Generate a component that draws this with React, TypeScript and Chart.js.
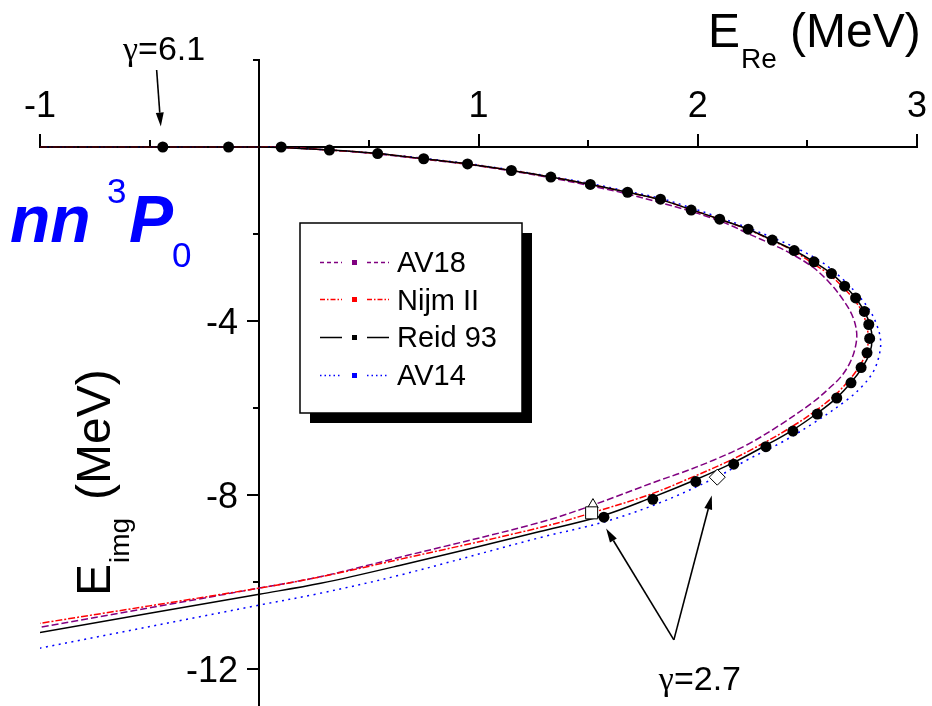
import React, { useEffect, useRef } from "react";
import { Chart, registerables } from "chart.js";

Chart.register(...registerables);

// ---------- axes ----------
const X_RANGE = [-1, 3];
const Y_RANGE = [-12.85, 2];
const X_MAJOR_TICKS = [-1, 0, 1, 2, 3];
const X_TICK_LABELS = ["-1", "", "1", "2", "3"];
const X_MINOR_TICKS = [-0.5, 0.5, 1.5, 2.5];
const Y_MAJOR_TICKS = [0, -4, -8, -12];
const Y_TICK_LABELS = ["", "-4", "-8", "-12"];
const Y_MINOR_TICKS = [2, -2, -6, -10];

// ---------- series (E_Re, E_img) ----------
const av18: number[][] = [
  [-1, 0], [0, 0], [0.1, -0.01], [0.32, -0.07], [0.54, -0.16], [0.75, -0.28], [0.95, -0.4],
  [1.15, -0.55], [1.33, -0.71], [1.51, -0.89], [1.68, -1.08], [1.83, -1.28], [1.95, -1.45],
  [2.056, -1.62], [2.15, -1.8], [2.225, -1.98], [2.345, -2.25], [2.436, -2.48], [2.527, -2.77],
  [2.603, -3.13], [2.664, -3.52], [2.707, -3.9], [2.725, -4.28], [2.718, -4.62], [2.695, -4.95],
  [2.655, -5.27], [2.603, -5.53], [2.527, -5.86], [2.375, -6.39], [2.223, -6.85], [2.071, -7.2],
  [1.919, -7.5], [1.826, -7.66], [1.522, -8.23], [1.28, -8.63], [0.642, -9.43], [0.277, -9.88],
  [0, -10.14], [-1, -11.04],
];
const nijm2: number[][] = [
  [-1, 0], [0, 0], [0.1, -0.01], [0.32, -0.07], [0.54, -0.15], [0.75, -0.27], [0.95, -0.39],
  [1.15, -0.54], [1.33, -0.69], [1.51, -0.86], [1.68, -1.04], [1.83, -1.21], [1.97, -1.44],
  [2.1, -1.66], [2.23, -1.9], [2.34, -2.15], [2.44, -2.4], [2.52, -2.66], [2.6, -2.93],
  [2.66, -3.21], [2.71, -3.49], [2.75, -3.79], [2.77, -4.1], [2.778, -4.41], [2.768, -4.73],
  [2.735, -5.06], [2.685, -5.39], [2.62, -5.73], [2.53, -6.09], [2.42, -6.46], [2.295, -6.82],
  [2.15, -7.2], [1.975, -7.59], [1.78, -7.99], [1.516, -8.41], [1.28, -8.75], [0.64, -9.48],
  [0.28, -9.88], [0, -10.14], [-1, -10.95],
];
const reid93: number[][] = [
  [-1, 0], [0, 0], [0.1, -0.01], [0.32, -0.07], [0.54, -0.15], [0.75, -0.27], [0.95, -0.39],
  [1.15, -0.54], [1.33, -0.69], [1.51, -0.86], [1.68, -1.04], [1.83, -1.21], [1.97, -1.44],
  [2.1, -1.66], [2.23, -1.89], [2.34, -2.14], [2.44, -2.38], [2.53, -2.64], [2.61, -2.91],
  [2.67, -3.19], [2.72, -3.47], [2.76, -3.78], [2.785, -4.08], [2.795, -4.4], [2.785, -4.73],
  [2.75, -5.07], [2.7, -5.41], [2.635, -5.76], [2.545, -6.12], [2.435, -6.5], [2.31, -6.86],
  [2.165, -7.25], [1.99, -7.65], [1.79, -8.06], [1.57, -8.47], [1.28, -8.84], [0.64, -9.62],
  [0.28, -10.03], [0, -10.28], [-1, -11.16],
];
const av14: number[][] = [
  [-1, 0], [0, 0], [0.1, -0.01], [0.32, -0.07], [0.54, -0.15], [0.75, -0.26], [0.95, -0.38],
  [1.15, -0.53], [1.33, -0.68], [1.51, -0.84], [1.68, -1.02], [1.83, -1.18], [1.97, -1.4],
  [2.1, -1.62], [2.225, -1.85], [2.339, -2.08], [2.448, -2.32], [2.558, -2.62], [2.649, -2.98],
  [2.725, -3.37], [2.78, -3.72], [2.815, -4.07], [2.834, -4.44], [2.827, -4.8], [2.8, -5.17],
  [2.75, -5.5], [2.679, -5.82], [2.527, -6.35], [2.375, -6.81], [2.223, -7.2], [2.09, -7.58],
  [1.826, -8.18], [1.572, -8.62], [1.28, -8.98], [0.642, -9.84], [0.277, -10.26], [0, -10.53],
  [-1, -11.52],
];
// Reid 93 trajectory points (filled circles)
const reid93Points: number[][] = [
  [-0.44, 0], [-0.14, 0], [0.1, 0], [0.32, -0.07], [0.54, -0.15], [0.75, -0.27], [0.95, -0.39],
  [1.15, -0.54], [1.33, -0.69], [1.51, -0.86], [1.68, -1.04], [1.83, -1.2], [1.97, -1.45],
  [2.1, -1.66], [2.23, -1.89], [2.34, -2.14], [2.44, -2.38], [2.53, -2.64], [2.61, -2.91],
  [2.67, -3.2], [2.72, -3.47], [2.76, -3.78], [2.78, -4.08], [2.784, -4.4], [2.772, -4.73],
  [2.745, -5.07], [2.699, -5.42], [2.634, -5.77], [2.545, -6.14], [2.434, -6.53], [2.311, -6.89],
  [2.164, -7.29], [1.991, -7.69], [1.795, -8.1], [1.572, -8.51],
];
// gamma = 2.7 open markers
const av18Gamma: number[][] = [[1.522, -8.22]];
const nijm2Gamma: number[][] = [[1.516, -8.41]];
const av14Gamma: number[][] = [[2.089, -7.59]];

// annotations (data coordinates)
const GAMMA61_LABEL = { x: -0.434, y: 2.0, text: "=6.1" };
const GAMMA61_ARROW = [[-0.468, 1.77], [-0.449, 0.47]];
const GAMMA27_LABEL = { x: 2.01, y: -12.48, text: "=2.7" };
const GAMMA27_ARROWS = [
  [[1.891, -11.33], [1.582, -8.77]],
  [[1.891, -11.33], [2.064, -8.01]],
];

const SANS = '"Liberation Sans", Arial, sans-serif';
const SERIF = '"Liberation Serif", "Times New Roman", serif';

const toXY = (arr: number[][]) => arr.map(([x, y]) => ({ x, y }));

const LEGEND_DASH: Record<string, number[]> = {
  AV18: [4, 3],
  "Nijm II": [5, 2, 1.5, 2],
  "Reid 93": [],
  AV14: [1.5, 3],
};

function drawArrow(ctx: CanvasRenderingContext2D, x1: number, y1: number, x2: number, y2: number) {
  const ang = Math.atan2(y2 - y1, x2 - x1);
  const hl = 14;
  const hw = 4;
  const bx = x2 - Math.cos(ang) * hl;
  const by = y2 - Math.sin(ang) * hl;
  ctx.beginPath();
  ctx.moveTo(x1, y1);
  ctx.lineTo(bx, by);
  ctx.lineWidth = 1.6;
  ctx.strokeStyle = "#000";
  ctx.stroke();
  ctx.beginPath();
  ctx.moveTo(x2, y2);
  ctx.lineTo(bx + Math.sin(ang) * hw, by - Math.cos(ang) * hw);
  ctx.lineTo(bx - Math.sin(ang) * hw, by + Math.cos(ang) * hw);
  ctx.closePath();
  ctx.fillStyle = "#000";
  ctx.fill();
}

function drawGammaLabel(ctx: CanvasRenderingContext2D, cx: number, baseline: number, text: string) {
  ctx.textBaseline = "alphabetic";
  ctx.textAlign = "left";
  ctx.font = `34px ${SERIF}`;
  const gw = ctx.measureText("\u03B3").width;
  ctx.font = `34px ${SANS}`;
  const tw = ctx.measureText(text).width;
  const start = cx - (gw + tw) / 2;
  ctx.fillStyle = "#000";
  ctx.font = `34px ${SERIF}`;
  ctx.fillText("\u03B3", start, baseline);
  ctx.font = `34px ${SANS}`;
  ctx.fillText(text, start + gw, baseline);
}

const axesPlugin = {
  id: "customAxes",
  beforeDatasetsDraw(chart: any) {
    const { ctx, chartArea } = chart;
    const xs = chart.scales.x;
    const ys = chart.scales.y;
    const x0 = Math.round(xs.getPixelForValue(0));
    const y0 = Math.round(ys.getPixelForValue(0));
    ctx.save();
    ctx.strokeStyle = "#000";
    ctx.lineWidth = 2;
    ctx.beginPath();
    ctx.moveTo(xs.getPixelForValue(X_RANGE[0]) - 1, y0);
    ctx.lineTo(xs.getPixelForValue(X_RANGE[1]) + 1, y0);
    ctx.moveTo(x0, ys.getPixelForValue(Y_RANGE[1]) - 1);
    ctx.lineTo(x0, chartArea.bottom);
    X_MAJOR_TICKS.forEach((v) => {
      const p = Math.round(xs.getPixelForValue(v));
      ctx.moveTo(p, y0);
      ctx.lineTo(p, y0 - 13);
    });
    X_MINOR_TICKS.forEach((v) => {
      const p = Math.round(xs.getPixelForValue(v));
      ctx.moveTo(p, y0);
      ctx.lineTo(p, y0 - 7);
    });
    Y_MAJOR_TICKS.forEach((v) => {
      const p = Math.round(ys.getPixelForValue(v));
      ctx.moveTo(x0, p);
      ctx.lineTo(x0 - 12, p);
    });
    Y_MINOR_TICKS.forEach((v) => {
      const p = Math.round(ys.getPixelForValue(v));
      ctx.moveTo(x0, p);
      ctx.lineTo(x0 - 6, p);
    });
    ctx.stroke();

    ctx.fillStyle = "#000";
    ctx.font = `36px ${SANS}`;
    ctx.textBaseline = "alphabetic";
    ctx.textAlign = "center";
    X_MAJOR_TICKS.forEach((v, i) => {
      if (X_TICK_LABELS[i]) ctx.fillText(X_TICK_LABELS[i], xs.getPixelForValue(v), y0 - 30);
    });
    ctx.textAlign = "right";
    Y_MAJOR_TICKS.forEach((v, i) => {
      if (Y_TICK_LABELS[i]) ctx.fillText(Y_TICK_LABELS[i], x0 - 21, ys.getPixelForValue(v) + 13);
    });

    // x title: E_Re (MeV)
    ctx.textAlign = "left";
    ctx.font = `48px ${SANS}`;
    ctx.fillText("E", 708, 47);
    ctx.font = `28px ${SANS}`;
    ctx.fillText("Re", 741, 68);
    ctx.font = `48px ${SANS}`;
    ctx.fillText("(MeV)", 790, 47);

    // y title: E_img (MeV)
    ctx.save();
    ctx.translate(110, 596);
    ctx.rotate(-Math.PI / 2);
    ctx.font = `48px ${SANS}`;
    ctx.fillText("E", 0, 0);
    ctx.font = `28px ${SANS}`;
    ctx.fillText("img", 33, 19);
    ctx.font = `48px ${SANS}`;
    ctx.fillText("(MeV)", 96, 0);
    ctx.restore();

    // nn 3P0
    ctx.fillStyle = "#0000FF";
    ctx.font = `italic bold 66px ${SANS}`;
    ctx.fillText("nn", 10, 242);
    ctx.font = `35px ${SANS}`;
    ctx.fillText("3", 107, 203);
    ctx.font = `italic bold 66px ${SANS}`;
    ctx.fillText("P", 129, 242);
    ctx.font = `35px ${SANS}`;
    ctx.fillText("0", 172, 267);
    ctx.restore();
  },
  afterDatasetsDraw(chart: any) {
    const { ctx } = chart;
    const xs = chart.scales.x;
    const ys = chart.scales.y;
    const px = (v: number) => xs.getPixelForValue(v);
    const py = (v: number) => ys.getPixelForValue(v);
    ctx.save();

    // legend box with shadow
    const L = 300, T = 223, W = 222, H = 190, S = 10;
    ctx.fillStyle = "#000";
    ctx.fillRect(L + S, T + S, W, H);
    ctx.fillStyle = "#fff";
    ctx.fillRect(L, T, W, H);
    ctx.strokeStyle = "#000";
    ctx.lineWidth = 1.5;
    ctx.strokeRect(L, T, W, H);

    const lineSets = chart.data.datasets.filter((d: any) => d.showLine);
    const order = ["AV18", "Nijm II", "Reid 93", "AV14"];
    order.forEach((name, i) => {
      const ds = lineSets.find((d: any) => d.label === name);
      const base = 272 + i * 37.7;
      const ly = Math.round(base - 10.5) + 0.5;
      ctx.strokeStyle = ds.borderColor;
      ctx.lineWidth = 1.5;
      ctx.setLineDash(LEGEND_DASH[name]);
      ctx.beginPath();
      ctx.moveTo(320, ly);
      ctx.lineTo(342, ly);
      ctx.moveTo(367, ly);
      ctx.lineTo(389, ly);
      ctx.stroke();
      ctx.setLineDash([]);
      ctx.fillStyle = ds.borderColor;
      ctx.fillRect(352, ly - 2.5, 5, 5);
      ctx.fillStyle = "#000";
      ctx.font = `29px ${SANS}`;
      ctx.textAlign = "left";
      ctx.textBaseline = "alphabetic";
      ctx.fillText(name, 397, base);
    });

    // annotations
    drawGammaLabel(ctx, px(GAMMA61_LABEL.x), py(GAMMA61_LABEL.y), GAMMA61_LABEL.text);
    drawArrow(ctx, px(GAMMA61_ARROW[0][0]), py(GAMMA61_ARROW[0][1]), px(GAMMA61_ARROW[1][0]), py(GAMMA61_ARROW[1][1]));
    GAMMA27_ARROWS.forEach(([a, b]) => drawArrow(ctx, px(a[0]), py(a[1]), px(b[0]), py(b[1])));
    drawGammaLabel(ctx, px(GAMMA27_LABEL.x), py(GAMMA27_LABEL.y), GAMMA27_LABEL.text);
    ctx.restore();
  },
};

export default function App() {
  const ref = useRef<HTMLCanvasElement>(null);
  useEffect(() => {
    const lineDs = (label: string, data: number[][], color: string, dash: number[]) => ({
      label,
      data: toXY(data),
      showLine: true,
      borderColor: color,
      backgroundColor: color,
      borderWidth: 1.5,
      borderDash: dash,
      pointRadius: 0,
      tension: 0.35,
      fill: false,
    });
    const chart = new Chart(ref.current as HTMLCanvasElement, {
      type: "scatter",
      data: {
        datasets: [
          {
            label: "Nijm II gamma 2.7",
            data: toXY(nijm2Gamma),
            pointStyle: "rect",
            pointRadius: 8.5,
            backgroundColor: "#fff",
            borderColor: "#000",
            borderWidth: 1,
          },
          {
            label: "AV18 gamma 2.7",
            data: toXY(av18Gamma),
            pointStyle: "triangle",
            pointRadius: 6,
            backgroundColor: "#fff",
            borderColor: "#000",
            borderWidth: 1,
          },
          {
            label: "AV14 gamma 2.7",
            data: toXY(av14Gamma),
            pointStyle: "rectRot",
            pointRadius: 8,
            backgroundColor: "#fff",
            borderColor: "#000",
            borderWidth: 1,
          },
          {
            label: "Reid 93 points",
            data: toXY(reid93Points),
            pointStyle: "circle",
            pointRadius: 5.5,
            backgroundColor: "#000",
            borderColor: "#000",
            borderWidth: 0,
          },
          lineDs("Reid 93", reid93, "#000000", []),
          lineDs("Nijm II", nijm2, "#FF0000", [7, 2, 2, 2]),
          lineDs("AV18", av18, "#800080", [7, 3]),
          lineDs("AV14", av14, "#0000FF", [2, 4.5]),
        ],
      } as any,
      options: {
        animation: false,
        responsive: false,
        maintainAspectRatio: false,
        events: [],
        layout: { autoPadding: false, padding: { left: 40, right: 15, top: 60, bottom: 0 } },
        plugins: { legend: { display: false }, tooltip: { enabled: false } },
        scales: {
          x: { type: "linear", min: X_RANGE[0], max: X_RANGE[1], display: false },
          y: { type: "linear", min: Y_RANGE[0], max: Y_RANGE[1], display: false },
        },
      } as any,
      plugins: [axesPlugin],
    });
    return () => chart.destroy();
  }, []);
  return (
    <div style={{ position: "absolute", left: 0, top: 0, width: 932, height: 706, background: "#fff" }}>
      <canvas ref={ref} width={932} height={706} style={{ display: "block" }} />
    </div>
  );
}
